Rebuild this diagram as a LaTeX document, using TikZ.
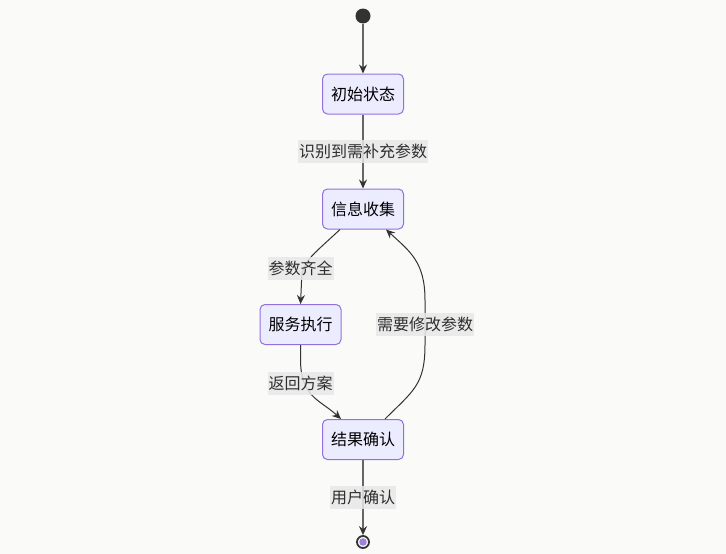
\documentclass[tikz,border=0pt]{standalone}
\usepackage{fontspec}
\newfontfamily\cjk{Noto Sans CJK SC}
\usetikzlibrary{arrows.meta,calc}
\definecolor{bgc}{HTML}{FAFAF9}
\definecolor{boxfill}{HTML}{ECECFF}
\definecolor{boxline}{HTML}{9370DB}
\definecolor{edgec}{HTML}{333333}
\definecolor{lblbg}{HTML}{E8E8E8}
\definecolor{endfill}{HTML}{9F7FE0}
\tikzset{
  statebox/.style={draw=boxline, fill=boxfill, line width=1pt, rounded corners=5pt,
    minimum width=81pt, minimum height=40pt, inner sep=0pt, font=\cjk\fontsize{16pt}{18pt}\selectfont, text=black},
  elabel/.style={fill=lblbg, fill opacity=0.85, text opacity=1, inner xsep=1pt, inner ysep=0pt,
    minimum height=23pt, font=\cjk\fontsize{16pt}{18pt}\selectfont, text=edgec!90!black},
  edge/.style={draw=edgec, line width=1pt, -{Stealth[length=9pt,width=8pt,inset=3pt]}},
  sedge/.style={draw=edgec!75, line width=1.4pt, -{Stealth[length=9pt,width=8pt,inset=3pt,color=edgec]}},
}
\begin{document}
\begin{tikzpicture}[x=1pt,y=-1pt]
\fill[bgc] (0,0) rectangle (726,554);
\useasboundingbox (0,0) rectangle (726,554);

\node[circle, fill=edgec, minimum size=15pt, inner sep=0pt] (start) at (363,16) {};
\node[statebox] (init) at (363,94) {初始状态};
\node[statebox] (collect) at (363,209) {信息收集};
\node[statebox, minimum width=81pt] (exec) at (300.5,324.5) {服务执行};
\node[statebox] (confirm) at (363,439.5) {结果确认};
\node[circle, draw=edgec, line width=1.8pt, fill=white, minimum size=12pt, inner sep=0pt] (endc) at (363,542) {};
\fill[endfill] (endc.center) circle (3.8pt);

% edges
\draw[sedge] (start) -- (init.north);
\draw[sedge] (init.south) -- (collect.north);
\draw[sedge] (confirm.south) -- (endc.north);

\coordinate (c1) at ($(collect.south)+(-23,0)$);
\draw[edge] (c1) .. controls ($(c1)+(-30,28)$) and ($(exec.north)+(1,-42)$) .. ($(exec.north)+(1,-22)$) -- (exec.north);

\coordinate (c2) at ($(confirm.north)+(-22,0)$);
\draw[edge] (exec.south) -- ($(exec.south)+(0,14)$) .. controls ($(exec.south)+(0,52)$) and ($(c2)+(-22,-20)$) .. (c2);

\coordinate (c3) at ($(confirm.north)+(22,0)$);
\coordinate (c4) at ($(collect.south)+(23,0)$);
\draw[edge] (c3) .. controls ($(c3)+(28,-28)$) and (425,385) .. (425,345) -- (425,300) .. controls (425,262) and ($(c4)+(24,22)$) .. (c4);

% labels
\node[elabel] (l1) at (363,151.5) {识别到需补充参数};
\node[elabel] (l2) at (300.5,268) {参数齐全};
\node[elabel] (l3) at (300.5,383) {返回方案};
\node[elabel] (l4) at (425,324.5) {需要修改参数};
\node[elabel] (l5) at (363,497.5) {用户确认};
\end{tikzpicture}
\end{document}
